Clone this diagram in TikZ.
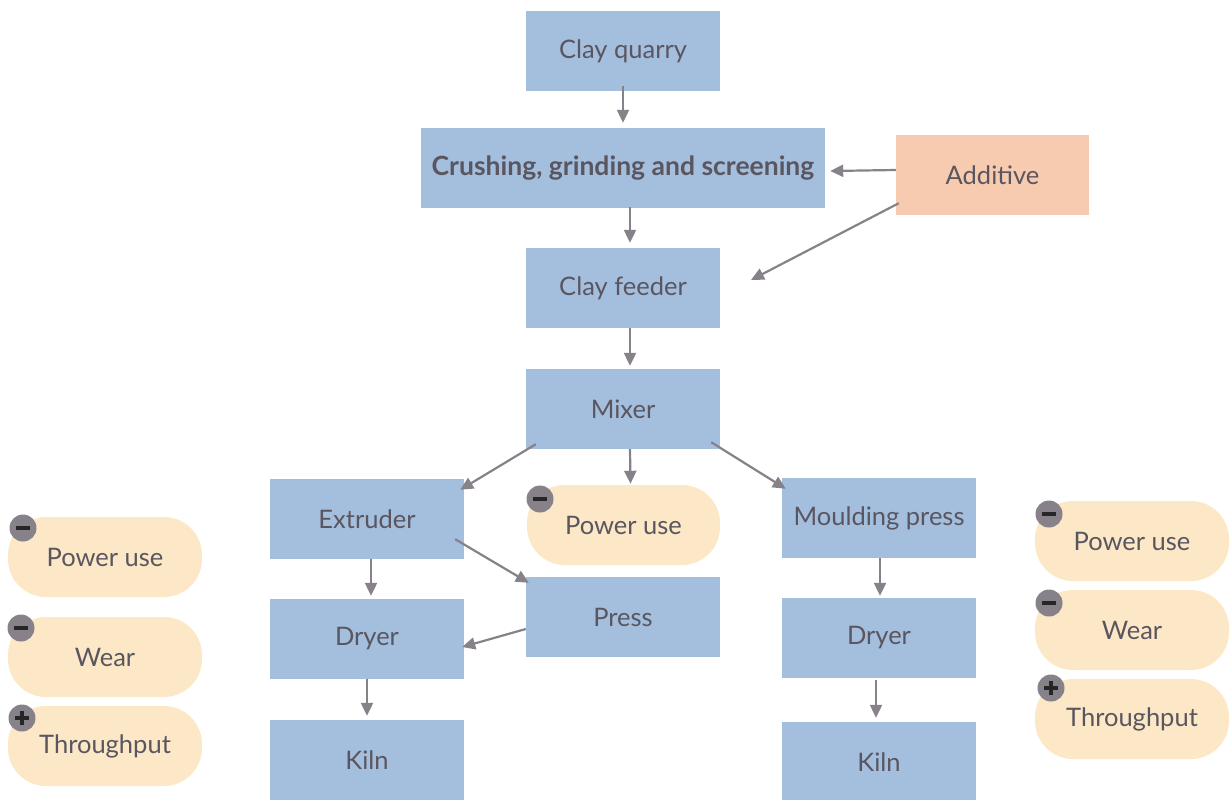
\documentclass[tikz,border=0pt]{standalone}
\usepackage{fontspec}
\setmainfont{Lato}
\usetikzlibrary{arrows.meta}
\definecolor{boxblue}{HTML}{A4BEDE}
\definecolor{addpeach}{HTML}{F6CBB0}
\definecolor{pillyellow}{HTML}{FCE8C6}
\definecolor{linegrey}{HTML}{878189}
\definecolor{textgrey}{HTML}{5A5660}
\tikzset{
    block/.style={fill=boxblue, minimum width=194pt, minimum height=80pt, text=textgrey, font=\fontsize{25.5}{30}\selectfont},
    pill/.style={fill=pillyellow, rounded corners=38pt, minimum width=194pt, minimum height=80pt, text=textgrey, font=\fontsize{25.5}{30}\selectfont},
    badge/.style={circle, fill=linegrey, minimum size=27pt, inner sep=0pt},
    sign/.style={line width=3.8pt, color=black!85},
    arr/.style={-{Triangle[length=13pt,width=12pt]}, line width=2.2pt, color=linegrey}
}
\begin{document}
\begin{tikzpicture}[x=1pt,y=-1pt]
    \useasboundingbox (0,0) rectangle (1229,800);
    % Main line
    \node[block] (quarry) at (623,51) {Clay quarry};
    \node[block, minimum width=404pt, font=\fontsize{26.5}{30}\selectfont\bfseries] (crush) at (623,168) {Crushing, grinding and screening};
    \node[block, fill=addpeach, minimum width=193pt] (additive) at (992.5,175) {Additive};
    \node[block] (feeder) at (623,288) {Clay feeder};
    \node[block] (mixer) at (623,409) {Mixer};
    \node[block] (extruder) at (367,519) {Extruder};
    \node[pill, minimum width=193pt] (midpow) at (623.5,525) {Power use};
    \node[block] (moulding) at (879,518) {Moulding press};
    \node[block] (dryerL) at (367,639) {Dryer};
    \node[block] (press) at (623,617) {Press};
    \node[block] (dryerR) at (879,638) {Dryer};
    \node[block] (kilnL) at (367,760) {Kiln};
    \node[block] (kilnR) at (879,762) {Kiln};
    \coordinate (mixin) at (751,280);

    % Effects
    \node[pill] (powL) at (105,557) {Power use};
    \node[pill] (wearL) at (105,657) {Wear};
    \node[pill] (thrL) at (105,746) {Throughput};
    \node[pill] (powR) at (1132,541) {Power use};
    \node[pill] (wearR) at (1132,630) {Wear};
    \node[pill] (thrR) at (1132,719) {Throughput};

    \foreach \n/\x/\y in {bm/540/499, b1/23/528, b2/21/628, b3/22/718, b4/1049/514, b5/1049/603, b6/1051/688} {
        \node[badge] (\n) at (\x,\y) {};
        \draw[sign] ([xshift=-7pt]\n.center) -- ([xshift=7pt]\n.center);
    }
    \foreach \n in {b3, b6} {
        \draw[sign] ([yshift=-7pt]\n.center) -- ([yshift=7pt]\n.center);
    }

    % Flow
    \draw[arr] ([shift={(0,-5)}]quarry.south) -- ([shift={(0,-5)}]crush.north);
    \draw[arr] ([shift={(7,-1)}]crush.south) -- ([shift={(7,-5)}]feeder.north);
    \draw[arr] ([shift={(0,-5)}]additive.west) -- ([shift={(5,3)}]crush.east);
    \draw[arr] ([shift={(3,-12)}]additive.south west) -- (mixin);
    \draw[arr] ([shift={(7,0)}]feeder.south) -- ([shift={(7,-3)}]mixer.north);
    \draw[arr] ([shift={(10,-5)}]mixer.south west) -- ([shift={(-4,11)}]extruder.north east);
    \draw[arr] ([shift={(7,0)}]mixer.south) -- ([shift={(7,-1)}]midpow.north);
    \draw[arr] ([shift={(-9,-7)}]mixer.south east) -- ([shift={(4,11)}]moulding.north west);
    \draw[arr] ([shift={(-9,-20)}]extruder.south east) -- ([shift={(3,6)}]press.north west);
    \draw[arr] ([shift={(0,12)}]press.west) -- ([shift={(-2,8)}]dryerL.east);
    \draw[arr] ([shift={(4,0)}]extruder.south) -- ([shift={(4,-3)}]dryerL.north);
    \draw[arr] (dryerL.south) -- ([shift={(0,-4)}]kilnL.north);
    \draw[arr] ([shift={(1,0)}]moulding.south) -- ([shift={(1,-2)}]dryerR.north);
    \draw[arr] ([shift={(-3,2)}]dryerR.south) -- ([shift={(-3,-4)}]kilnR.north);
\end{tikzpicture}
\end{document}
